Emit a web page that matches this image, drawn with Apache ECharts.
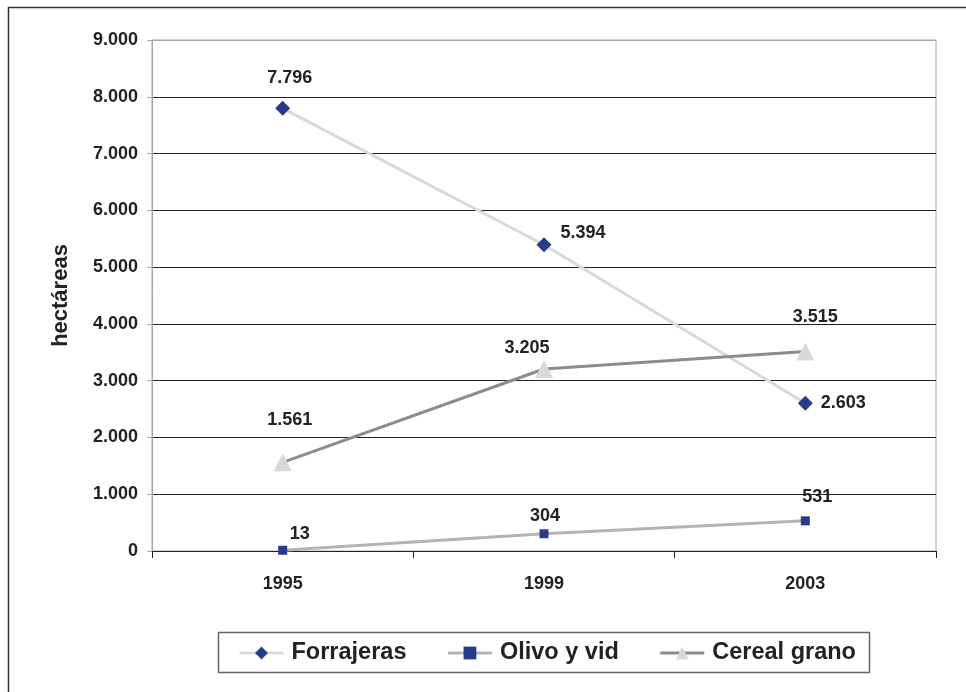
<!DOCTYPE html>
<html><head><meta charset="utf-8">
<script src="https://cdn.jsdelivr.net/npm/echarts@6/dist/echarts.min.js"></script>
<style>html,body{margin:0;padding:0;background:#fff}#c{width:966px;height:692px}</style>
</head><body><div id="c"></div>
<script>
var years = ['1995', '1999', '2003'];
var forrajeras = [7796, 5394, 2603];
var olivo = [13, 304, 531];
var cereal = [1561, 3205, 3515];
var seriesNames = ['Forrajeras', 'Olivo y vid', 'Cereal grano'];
var yTicks = [0, 1000, 2000, 3000, 4000, 5000, 6000, 7000, 8000, 9000];

var FONT = '"Liberation Sans", Arial, sans-serif';
function fmt(v){ return String(v).replace(/\B(?=(\d{3})+(?!\d))/g, '.'); }
var lbl = {show:true, fontFamily:FONT, fontWeight:'bold', fontSize:18, color:'#222', formatter:function(p){return fmt(p.value);}};

function pts(vals, cfgs){
  return vals.map(function(v,i){ return {value:v, label:cfgs[i]}; });
}
var chart = echarts.init(document.getElementById('c'));
chart.setOption({
  animation:false,
  backgroundColor:'#fff',
  graphic:[
    {type:'rect', shape:{x:8.5,y:7.5,width:1200,height:1200}, style:{fill:'none', stroke:'#333', lineWidth:1.5}, z:-1},
    {type:'rect', shape:{x:218.5,y:632.5,width:651,height:40}, style:{fill:'#fff', stroke:'#666', lineWidth:1.5}, z:-1}
  ],
  grid:{left:152, right:30, top:40, bottom:141, show:true, borderColor:'#a6a6a6', borderWidth:1},
  legend:{left:238, top:641, padding:0, itemGap:40, itemWidth:44, itemHeight:16,
    lineStyle:{width:3},
    textStyle:{fontFamily:FONT, fontWeight:'bold', fontSize:23.5, color:'#222', padding:[0,0,0,3]},
    data:seriesNames},
  xAxis:{type:'category', data:years, boundaryGap:true,
    axisLine:{show:true, lineStyle:{color:'#222', width:1}},
    axisTick:{show:true, length:7, lineStyle:{color:'#222'}},
    axisLabel:{fontFamily:FONT, fontWeight:'bold', fontSize:18, color:'#222', margin:24}},
  yAxis:{type:'value', min:0, max:9000, interval:1000,
    name:'hectáreas', nameLocation:'middle', nameGap:80, nameRotate:90,
    nameTextStyle:{fontFamily:FONT, fontWeight:'bold', fontSize:22, color:'#222'},
    axisLine:{show:true, lineStyle:{color:'#a6a6a6'}},
    axisTick:{show:true, length:5, lineStyle:{color:'#a6a6a6'}},
    axisLabel:{fontFamily:FONT, fontWeight:'bold', fontSize:18, color:'#222', margin:14,
      formatter:function(v){return fmt(v);}},
    splitLine:{show:true, lineStyle:{color:['#a6a6a6','#222','#222','#222','#222','#222','#222','#222','#222','#a6a6a6'], width:1}}},
  series:[
    {name:seriesNames[0], type:'line', symbol:'diamond', symbolSize:15,
      lineStyle:{color:'#d9d9d9', width:3}, itemStyle:{color:'#263a8e'},
      label:lbl,
      data:pts(forrajeras, [{position:'top', distance:14, offset:[7,0]}, {position:'right', distance:9, offset:[0,-12]}, {position:'right', distance:8}])},
    {name:seriesNames[1], type:'line', symbol:'rect', symbolSize:9,
      lineStyle:{color:'#b3b3b3', width:3}, itemStyle:{color:'#263a8e'},
      label:lbl,
      data:pts(olivo, [{position:'top', distance:3, offset:[17,0]}, {position:'top', distance:4, offset:[1,0]}, {position:'top', distance:10, offset:[12,0]}])},
    {name:seriesNames[2], type:'line', symbol:'triangle', symbolSize:18,
      lineStyle:{color:'#8c8c8c', width:3}, itemStyle:{color:'#d9d9d9'},
      label:lbl,
      data:pts(cereal, [{position:'top', distance:24, offset:[7,0]}, {position:'top', distance:3, offset:[-17,0]}, {position:'top', distance:16, offset:[10,0]}])}
  ]
});
</script></body></html>
